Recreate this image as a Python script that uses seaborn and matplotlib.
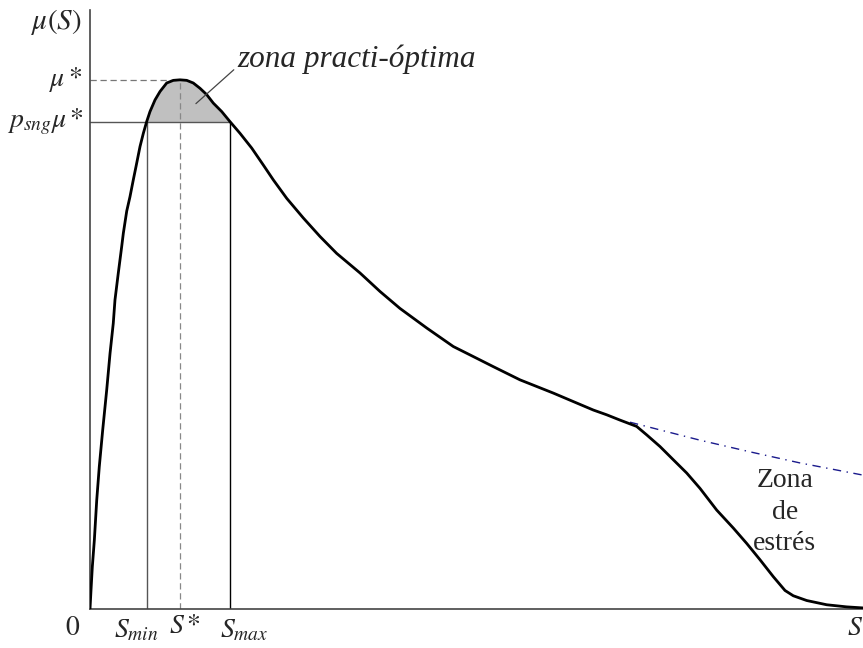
import matplotlib
matplotlib.use("Agg")
import matplotlib.pyplot as plt
import numpy as np
import pandas as pd
import seaborn as sns

# Specific growth rate mu(S) versus substrate concentration S (arbitrary units)
S_curve = [0.0, 0.13, 0.30, 0.56, 0.87, 1.20, 1.64, 2.16, 2.59, 3.01, 3.23, 3.66,
           4.10, 4.31, 4.75, 5.17, 5.60, 5.95, 6.47, 6.90, 7.33, 7.76, 8.41, 9.06,
           9.92, 10.78, 11.64, 12.51, 13.36, 14.23, 15.10, 15.95, 17.04, 18.11,
           19.40, 20.92, 22.42, 23.71, 25.45, 27.59, 29.75, 31.91, 34.93, 37.52,
           40.10, 43.56, 47.00, 49.59, 52.17, 55.63, 59.94, 62.52, 65.11, 66.84,
           68.56, 70.72, 72.02, 73.74, 75.46, 77.19, 78.91, 81.07, 83.22, 84.95,
           86.68, 88.40, 89.91, 90.98, 92.72, 95.30, 97.89, 100.0]
mu_curve = [0.0, 0.036, 0.080, 0.130, 0.206, 0.269, 0.338, 0.414, 0.483, 0.540,
            0.584, 0.635, 0.685, 0.710, 0.752, 0.779, 0.811, 0.836, 0.874, 0.899,
            0.921, 0.940, 0.962, 0.978, 0.994, 0.999, 1.0, 0.999, 0.994, 0.984,
            0.972, 0.956, 0.940, 0.921, 0.899, 0.871, 0.839, 0.811, 0.776, 0.739,
            0.704, 0.672, 0.635, 0.600, 0.568, 0.531, 0.496, 0.477, 0.458, 0.433,
            0.408, 0.392, 0.376, 0.367, 0.357, 0.345, 0.329, 0.307, 0.282, 0.257,
            0.228, 0.187, 0.153, 0.124, 0.093, 0.061, 0.035, 0.025, 0.016, 0.008,
            0.004, 0.002]

# Continuation of the curve without stress
S_nostress = [69.86, 78.91, 85.38, 91.85, 100.0]
mu_nostress = [0.353, 0.319, 0.297, 0.276, 0.253]

S_min, S_opt, S_max = 7.33, 11.64, 18.11
mu_opt = 1.0
p_mu = 0.921

sns.set_theme(style="white")
plt.rcParams["mathtext.fontset"] = "stix"
plt.rcParams["font.family"] = ["Liberation Serif", "DejaVu Serif"]

fig = plt.figure(figsize=(8.63, 6.48), dpi=100)
ax = fig.add_axes([0.1043, 0.0602, 0.8957, 0.9244])

df = pd.DataFrame({"S": S_curve, "mu": mu_curve})
dn = pd.DataFrame({"S": S_nostress, "mu": mu_nostress})

# shaded near-optimal zone
Sx = np.array(S_curve)
My = np.array(mu_curve)
mask = (Sx >= S_min) & (Sx <= S_max)
ax.fill_between(Sx[mask], p_mu, My[mask], color="#c0c0c0", lw=0, zorder=1)

# reference lines
ax.plot([0, S_max], [p_mu, p_mu], color="#555555", lw=1.0, zorder=2)
ax.plot([S_min, S_min], [0, p_mu], color="#555555", lw=1.0, zorder=2)
ax.plot([S_max, S_max], [0, p_mu], color="black", lw=1.0, zorder=2)
ax.plot([0, S_opt], [mu_opt, mu_opt], color="#777777", lw=0.9, ls=(0, (5, 3)), zorder=2)
ax.plot([S_opt, S_opt], [0, mu_opt], color="#888888", lw=0.9, ls=(0, (5, 3)), zorder=2)

sns.lineplot(data=dn, x="S", y="mu", ax=ax, color="#1a1a8c", lw=1.0,
             linestyle=(0, (6, 4, 1, 4)), zorder=3)
sns.lineplot(data=df, x="S", y="mu", ax=ax, color="black", lw=2.0, zorder=4,
             solid_joinstyle="round")

ax.set_xlim(0, 100)
ax.set_ylim(0, 1.132)
ax.set_xticks([])
ax.set_yticks([])
ax.set_xlabel("")
ax.set_ylabel("")
for side in ("top", "right"):
    ax.spines[side].set_visible(False)
for side in ("left", "bottom"):
    ax.spines[side].set_color("#444444")
    ax.spines[side].set_linewidth(1.2)

fs = 20
# y-axis labels
ax.text(-1.0, 1.11, r"$\mu(S)$", ha="right", va="center", fontsize=21)
ax.text(-1.0, mu_opt, r"$\mu*$", ha="right", va="center", fontsize=fs)
ax.text(-0.8, p_mu, r"$p_{sng}\mu*$", ha="right", va="center", fontsize=fs)
# x-axis labels
ax.text(-2.2, -0.036, r"$0$", ha="center", va="center", fontsize=fs)
ax.text(5.95, -0.04, r"$S_{min}$", ha="center", va="center", fontsize=fs)
ax.text(12.3, -0.034, r"$S*$", ha="center", va="center", fontsize=fs)
ax.text(19.9, -0.04, r"$S_{max}$", ha="center", va="center", fontsize=fs)
ax.text(100.0, -0.036, r"$S$", ha="right", va="center", fontsize=fs)

ax.text(19.0, 1.038, "zona practi-óptima", fontsize=22.5, fontstyle="italic",
        ha="left", va="center")
ax.plot([18.6, 13.7], [1.019, 0.955], color="#444444", lw=0.9, zorder=5)
ax.text(89.9, 0.183, "Zona\nde\nestrés", ha="center", va="center",
        fontsize=fs, linespacing=1.35)

fig.savefig("out.png", dpi=100)
